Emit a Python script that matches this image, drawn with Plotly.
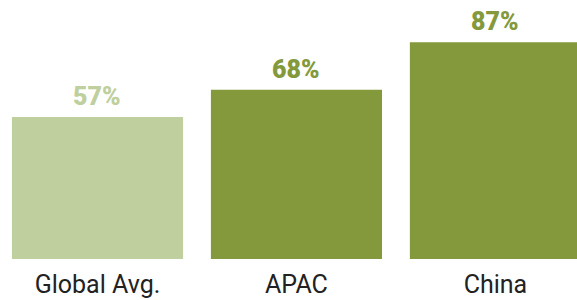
import plotly.graph_objects as go

categories = ["Global Avg.", "APAC", "China"]
values = [57, 68, 87]
bar_colors = ["#C0CF9E", "#83993B", "#83993B"]
labels = [f"{v}%" for v in values]

fig = go.Figure(go.Bar(
    x=categories, y=values,
    marker=dict(color=bar_colors, line=dict(width=0)),
    cliponaxis=False,
    hoverinfo="skip",
))
for cat, val, lab, col in zip(categories, values, labels, bar_colors):
    fig.add_annotation(
        x=cat, y=val, text=lab, showarrow=False,
        xanchor="center", yanchor="bottom", yshift=4,
        font=dict(family="Roboto", size=25, color=col, weight=900),
    )
fig.update_layout(
    width=577, height=300,
    margin=dict(l=0, r=0, t=0, b=41),
    paper_bgcolor="white", plot_bgcolor="white",
    bargap=0.14,
    showlegend=False,
    xaxis=dict(range=[-0.49, 2.41], showgrid=False, zeroline=False, showline=False,
               ticks="", tickfont=dict(family="Roboto", size=25, color="#222222"),
               ticklabelstandoff=8),
    yaxis=dict(range=[0, 104], visible=False),
)
fig.write_html("out.html", config={"displayModeBar": False},
               post_script="document.body.style.margin='0px';document.body.style.overflow='hidden';")
